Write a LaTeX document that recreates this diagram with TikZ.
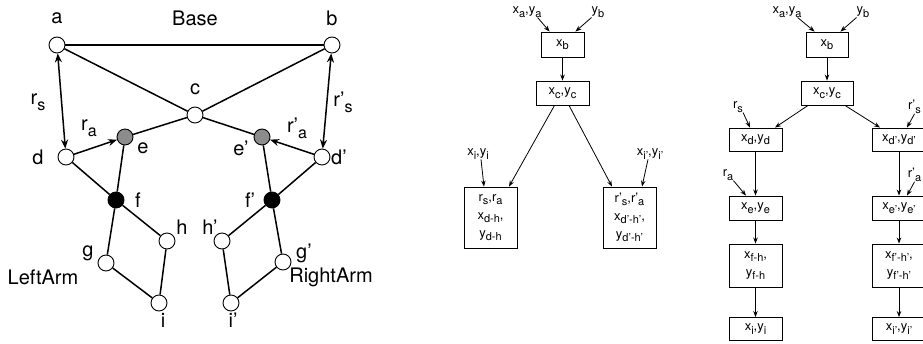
\documentclass[tikz,border=0pt]{standalone}
\usepackage{fontspec}
\setmainfont{TeX Gyre Heros}
\usetikzlibrary{arrows.meta}
\definecolor{egray}{RGB}{140,140,140}
\newcommand{\lsb}[1]{\raisebox{-0.3em}{\fontsize{16}{16}\selectfont #1}}
\newcommand{\tsb}[1]{\raisebox{-0.28em}{\fontsize{11}{11}\selectfont #1}}
\begin{document}
\begin{tikzpicture}[x=1pt,y=-1pt,
  vert/.style={circle,draw,line width=0.9pt,minimum size=16pt,inner sep=0pt,fill=white},
  lbl/.style={font=\fontsize{20}{20}\selectfont,inner sep=0pt},
  gedge/.style={line width=1.5pt},
  garr/.style={line width=1.5pt,-{Stealth[length=9pt,width=7pt]}},
  gdarr/.style={line width=1.5pt,{Stealth[length=9pt,width=7pt]}-{Stealth[length=9pt,width=7pt]}},
  box/.style={draw,line width=0.9pt,minimum width=53pt,inner sep=0pt,font=\fontsize{13}{18}\selectfont,align=center},
  tlbl/.style={font=\fontsize{13}{13}\selectfont,inner sep=0pt},
  tarr/.style={line width=0.8pt,-{Stealth[length=6pt,width=4.5pt]}}]
\clip (0,0) rectangle (923,343);
\useasboundingbox (0,0) rectangle (923,343);

% ---------- left graph ----------
\node[vert] (a) at (57,45) {};
\node[vert] (b) at (332,45) {};
\node[vert] (c) at (195,115) {};
\node[vert,fill=egray] (e) at (125,137) {};
\node[vert,fill=egray] (e2) at (262,137) {};
\node[vert] (d) at (66,157) {};
\node[vert] (d2) at (322,157) {};
\node[vert,fill=black] (f) at (116,200) {};
\node[vert,fill=black] (f2) at (272,200) {};
\node[vert] (h) at (167,241) {};
\node[vert] (h2) at (222,241) {};
\node[vert] (g) at (106,263) {};
\node[vert] (g2) at (283,262) {};
\node[vert] (i) at (159,303) {};
\node[vert] (i2) at (231,303) {};

\draw[gedge] (a) -- (b);
\draw[gedge] (a) -- (c);
\draw[gedge] (b) -- (c);
\draw[gedge] (c) -- (e);
\draw[gedge] (c) -- (e2);
\draw[gedge] (d) -- (f);
\draw[gedge] (f) -- (h);
\draw[gedge] (e) -- (f);
\draw[gedge] (f) -- (g);
\draw[gedge] (g) -- (i);
\draw[gedge] (h) -- (i);
\draw[gedge] (d2) -- (f2);
\draw[gedge] (f2) -- (h2);
\draw[gedge] (e2) -- (f2);
\draw[gedge] (f2) -- (g2);
\draw[gedge] (g2) -- (i2);
\draw[gedge] (h2) -- (i2);
\draw[gdarr] (a) -- (d);
\draw[gdarr] (b) -- (d2);
\draw[garr] (d) -- (e);
\draw[garr] (d2) -- (e2);

\node[lbl] (la) at (57,18) {a};
\node[lbl] (lbase) at (195,18) {Base};
\node[lbl] (lb) at (332,18) {b};
\node[lbl] (lc) at (195,89) {c};
\node[lbl] (lrs) at (38,102) {r\lsb{s}};
\node[lbl] (lrs2) at (343,102) {r'\lsb{s}};
\node[lbl] (lra) at (89,128) {r\lsb{a}};
\node[lbl] (lra2) at (297,128) {r'\lsb{a}};
\node[lbl] (le) at (143,148) {e};
\node[lbl] (le2) at (241,148) {e'};
\node[lbl] (ld) at (38,157) {d};
\node[lbl] (ld2) at (339,157) {d'};
\node[lbl] (lf) at (138,200) {f};
\node[lbl] (lf2) at (250,200) {f'};
\node[lbl] (lh) at (182,227) {h};
\node[lbl] (lh2) at (210,227) {h'};
\node[lbl] (lg) at (88,253) {g};
\node[lbl] (lg2) at (304,253) {g'};
\node[lbl] (lleft) at (43,277) {LeftArm};
\node[lbl] (lright) at (331,277) {RightArm};
\node[lbl] (li) at (163,320) {i};
\node[lbl] (li2) at (233,320) {i'};

% ---------- middle tree ----------
\node[tlbl] (m1xa) at (527,12) {x\tsb{a},y\tsb{a}};
\node[tlbl] (m1yb) at (598,12) {y\tsb{b}};
\node[box,minimum width=43pt,minimum height=25pt] (m1xb) at (562.5,44.5) {x\tsb{b}};
\node[box,minimum height=24pt] (m1xc) at (562.5,93) {x\tsb{c},y\tsb{c}};
\node[tlbl] (m1xi) at (478,154) {x\tsb{i},y\tsb{i}};
\node[tlbl] (m1xi2) at (650,154) {x\tsb{i'},y\tsb{i'}};
\node[box,minimum height=61pt] (m1L) at (490.5,217.5) {r\tsb{s},r\tsb{a}\\x\tsb{d-h},\\y\tsb{d-h}};
\node[box,minimum height=61pt] (m1R) at (629.5,217.5) {r'\tsb{s},r'\tsb{a}\\x\tsb{d'-h'},\\y\tsb{d'-h'}};

\draw[tarr] ([xshift=-4pt]m1xa.south east) -- ([xshift=9pt]m1xb.north west);
\draw[tarr] (m1yb.south west) -- ([xshift=-9pt]m1xb.north east);
\draw[tarr] (m1xb) -- (m1xc);
\draw[tarr] ([xshift=-8pt]m1xc.south) -- ([xshift=18.5pt]m1L.north);
\draw[tarr] ([xshift=6.5pt]m1xc.south) -- ([xshift=-17.5pt]m1R.north);
\draw[tarr] ([xshift=3pt]m1xi.south) -- ([xshift=-6.5pt]m1L.north);
\draw[tarr] ([xshift=-2pt]m1xi2.south) -- ([xshift=12.5pt]m1R.north);

% ---------- right tree ----------
\node[tlbl] (r1xa) at (787,12) {x\tsb{a},y\tsb{a}};
\node[tlbl] (r1yb) at (863,12) {y\tsb{b}};
\node[box,minimum width=42pt,minimum height=25pt] (r1xb) at (827,44.5) {x\tsb{b}};
\node[box,minimum width=52pt,minimum height=24pt] (r1xc) at (827,93) {x\tsb{c},y\tsb{c}};
\node[box,minimum height=23pt] (r1xd) at (755.5,139.5) {x\tsb{d},y\tsb{d}};
\node[box,minimum height=23pt] (r1xd2) at (899,139.5) {x\tsb{d'},y\tsb{d'}};
\node[box,minimum height=24pt] (r1xe) at (755.5,208) {x\tsb{e},y\tsb{e}};
\node[box,minimum height=24pt] (r1xe2) at (899,208) {x\tsb{e'},y\tsb{e'}};
\node[box,minimum height=43pt] (r1xf) at (755.5,265.5) {x\tsb{f-h},\\y\tsb{f-h}};
\node[box,minimum height=43pt] (r1xf2) at (899,265.5) {x\tsb{f'-h'},\\y\tsb{f'-h'}};
\node[box,minimum height=23pt] (r1xi) at (755.5,329) {x\tsb{i},y\tsb{i}};
\node[box,minimum height=23pt] (r1xi2) at (899,329) {x\tsb{i'},y\tsb{i'}};
\node[tlbl] (r1rs) at (738,107) {r\tsb{s}};
\node[tlbl] (r1ra) at (728,175) {r\tsb{a}};
\node[tlbl] (r1rs2) at (914.5,107) {r'\tsb{s}};
\node[tlbl] (r1ra2) at (914.5,175) {r'\tsb{a}};

\draw[tarr] ([xshift=-4pt]r1xa.south east) -- ([xshift=9pt]r1xb.north west);
\draw[tarr] (r1yb.south west) -- ([xshift=-8pt]r1xb.north east);
\draw[tarr] (r1xb) -- (r1xc);
\draw[tarr] ([xshift=-19pt]r1xc.south) -- ([xshift=19.5pt]r1xd.north);
\draw[tarr] ([xshift=18pt]r1xc.south) -- ([xshift=-19pt]r1xd2.north);
\draw[tarr] (r1xd) -- (r1xe);
\draw[tarr] (r1xe) -- (r1xf);
\draw[tarr] (r1xf) -- (r1xi);
\draw[tarr] (r1xd2) -- (r1xe2);
\draw[tarr] (r1xe2) -- (r1xf2);
\draw[tarr] (r1xf2) -- (r1xi2);
\draw[tarr] (r1rs.south east) -- ([xshift=-5.5pt]r1xd.north);
\draw[tarr] (r1ra.south east) -- ([xshift=-9.5pt]r1xe.north);
\draw[tarr] (r1rs2.south) -- ([xshift=8pt]r1xd2.north);
\draw[tarr] (r1ra2.south) -- ([xshift=8pt]r1xe2.north);
\end{tikzpicture}
\end{document}
